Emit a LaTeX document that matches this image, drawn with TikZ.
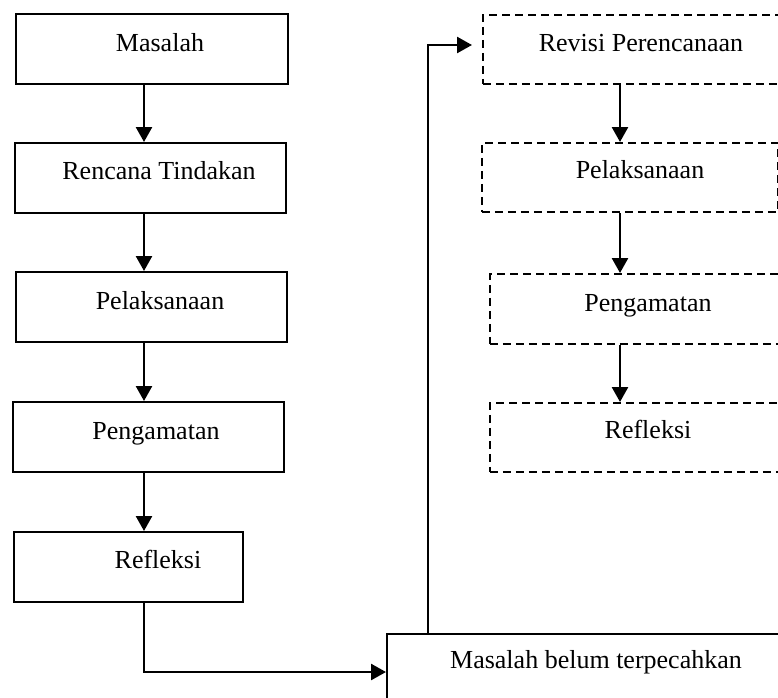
\documentclass[tikz,border=0pt]{standalone}
\usepackage{fontspec}
\setmainfont{Liberation Serif}
\usetikzlibrary{arrows.meta}
\tikzset{
  box/.style={draw, line width=1.9pt, inner sep=0pt, anchor=north west},
  dbox/.style={box, dash pattern=on 8pt off 5pt},
  lbl/.style={font=\fontsize{26}{30}\selectfont, anchor=base, inner sep=0pt},
  arr/.style={line width=2.6pt, -{Triangle[width=16pt,length=15pt]}},
}
\begin{document}
\begin{tikzpicture}[x=1pt,y=-1pt]
\useasboundingbox (0,0) rectangle (778,697);
\clip (0,0) rectangle (778,697);
% left column
\node[box, minimum width=272pt, minimum height=70pt] (a1) at (15,13) {};
\node[box, minimum width=271pt, minimum height=70pt] (a2) at (14,142) {};
\node[box, minimum width=271pt, minimum height=70pt] (a3) at (15,271) {};
\node[box, minimum width=271pt, minimum height=70pt] (a4) at (12,401) {};
\node[box, minimum width=229pt, minimum height=70pt] (a5) at (13,531) {};
\node[lbl] (t1) at (160,51) {Masalah};
\node[lbl] (t2) at (159,179) {Rencana Tindakan};
\node[lbl] (t3) at (160,309) {Pelaksanaan};
\node[lbl] (t4) at (156,439) {Pengamatan};
\node[lbl] (t5) at (158,568) {Refleksi};
% right column
\node[dbox, minimum width=330pt, minimum height=69pt] (b1) at (482,14) {};
\node[dbox, minimum width=296pt, minimum height=69pt] (b2) at (481,142) {};
\node[dbox, minimum width=330pt, minimum height=70pt] (b3) at (489,273) {};
\node[dbox, minimum width=330pt, minimum height=69pt] (b4) at (489,402) {};
\node[lbl] (u1) at (641,51) {Revisi Perencanaan};
\node[lbl] (u2) at (640,178) {Pelaksanaan};
\node[lbl] (u3) at (648,311) {Pengamatan};
\node[lbl] (u4) at (648,438) {Refleksi};
% bottom box
\node[box, minimum width=420pt, minimum height=90pt] (c) at (386,633) {};
\node[lbl] (ct) at (596,668) {Masalah belum terpecahkan};
% arrows left
\draw[arr] (a1.south -| 144,0) -- (a2.north -| 144,0);
\draw[arr] (a2.south -| 144,0) -- (a3.north -| 144,0);
\draw[arr] (a3.south -| 144,0) -- (a4.north -| 144,0);
\draw[arr] (a4.south -| 144,0) -- (a5.north -| 144,0);
% arrows right
\draw[arr] (b1.south -| 620,0) -- (b2.north -| 620,0);
\draw[arr] (b2.south -| 620,0) -- (b3.north -| 620,0);
\draw[arr] (b3.south -| 620,0) -- (b4.north -| 620,0);
% loop connectors
\coordinate (p1) at (144,672);
\draw[arr] (a5.south -| p1) -- (p1) -- (c.west |- p1);
\coordinate (q1) at (428,45);
\coordinate (q2) at (472,45);
\draw[arr] (c.north -| q1) -- (q1) -- (q2);
\end{tikzpicture}
\end{document}
